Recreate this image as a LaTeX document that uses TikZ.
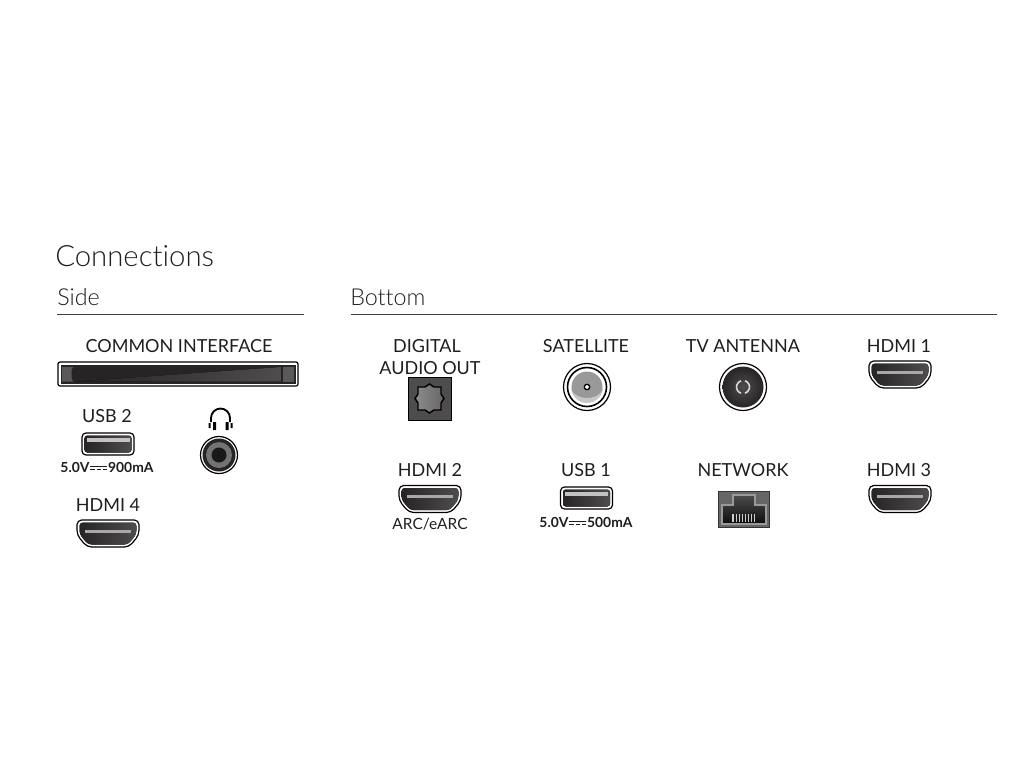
\documentclass[tikz,border=0pt]{standalone}
\usepackage{fontspec}
\setmainfont{Lato}
\newfontfamily\lightfont[Ligatures=NoCommon]{Lato Light}
\newcommand{\dcsym}{\hspace{0.5pt}\raisebox{3.9pt}{\rlap{\rule{13pt}{0.7pt}}}\raisebox{1.6pt}{\rule{3.4pt}{0.7pt}\hspace{1.4pt}\rule{3.4pt}{0.7pt}\hspace{1.4pt}\rule{3.4pt}{0.7pt}}\hspace{0.5pt}}
\definecolor{portdark}{HTML}{262424}
\definecolor{portmid}{HTML}{4E4C4C}
\definecolor{slotgrey}{HTML}{A8A8A8}
\definecolor{txt}{HTML}{1E1E1E}
\tikzset{
  label/.style={text=txt,font=\fontsize{13.5}{14}\selectfont,inner sep=0pt,anchor=center},
  small/.style={text=txt,font=\fontsize{10.4}{12}\selectfont\bfseries,inner sep=0pt,anchor=center},
  head/.style={text=txt,font=\lightfont\fontsize{17.5}{18}\selectfont,inner sep=0pt,anchor=base west},
  rulesty/.style={draw=black!75,line width=0.6pt},
  outer/.style={fill=white,draw=black,line width=0.9pt},
  pics/hdmi/.style={code={
    \draw[outer,rounded corners=3.5] (-31,-13.5) -- (31,-13.5) -- (31,1.5) -- (21,13.5) -- (-21,13.5) -- (-31,1.5) -- cycle;
    \fill[left color=portdark,right color=portmid,rounded corners=2.5] (-28.5,-11) -- (28.5,-11) -- (28.5,0.5) -- (20,11) -- (-20,11) -- (-28.5,0.5) -- cycle;
    \fill[slotgrey] (-23,-4) rectangle (23,-1);
  }},
  pics/usb/.style={code={
    \draw[outer,rounded corners=3] (-26,-11) rectangle (26,11);
    \fill[left color=portdark,right color=portmid,rounded corners=2] (-23.5,-8.5) rectangle (23.5,8.5);
    \fill[slotgrey!70!white] (-21.5,-6) rectangle (21.5,-2.5);
  }}
}
\begin{document}
\begin{tikzpicture}[x=0.75pt,y=-0.75pt]
\useasboundingbox (0,0) rectangle (1024,768);
\node[head,font=\lightfont\fontsize{22}{26}\selectfont] (title) at (55,266) {Connections};
\node[head] (side) at (57,305) {Side};
\node[head] (bottom) at (350,305) {Bottom};
\draw[rulesty] (57,314) -- (304,314);
\draw[rulesty] (351,314) -- (997,314);

% Common interface
\node[label] (ci) at (179,346) {COMMON INTERFACE};
\draw[outer,rounded corners=1.5] (58,362) rectangle (298,386);
\fill[portdark] (60.5,364.5) rectangle (295.5,383.5);
\fill[left color=portdark,right color=portmid] (76,381.5) -- (281,381.5) -- (281,367) -- cycle;
\fill[black!65] (62,367) -- (73,367) -- (71.5,370) -- (71.5,378) -- (73,381.5) -- (62,381.5) -- cycle;
\fill[black!65] (283,367) -- (294,367) -- (294,381.5) -- (283,381.5) -- cycle;

% USB 2, headphones, HDMI 4
\node[label] (usbtwo) at (107,416) {USB 2};
\pic at (108,444) {usb};
\node[small] (usbtwov) at (107,467.5) {5.0V\dcsym 900mA};
\node[label] (hdmifour) at (108,505) {HDMI 4};
\pic at (108,533.5) {hdmi};
\draw[black,line width=1.4pt] (211,422) -- (211,418) arc[start angle=180,end angle=360,radius=9.5] -- (230,422);
\fill[black] (208.5,423) rectangle (210.5,428) (213,422) rectangle (216,430) (225.5,422) rectangle (228.5,430) (230.5,423) rectangle (232.5,428);
\draw[outer] (219,455) circle[radius=18.5];
\fill[portdark] (219,455) circle[radius=16.5];
\fill[black!55] (219,455) circle[radius=13];
\fill[black!90] (219,455) circle[radius=7.5];

% Digital audio out
\node[label] (digital) at (427,346) {DIGITAL};
\node[label] (audio) at (430,368) {AUDIO OUT};
\fill[portmid] (408,377) rectangle (451,420);
\draw[black,line width=0.5pt] (408,377) rectangle (451,420);
\draw[black,line width=1.1pt,left color=black!45,right color=black!60]
  (418,387) -- (425,387) -- (429.5,384) -- (434,387) -- (441,387) -- (441,394) -- (444,398.5) -- (441,403) -- (441,410) -- (434,410) -- (429.5,413) -- (425,410) -- (418,410) -- (418,403) -- (415,398.5) -- (418,394) -- cycle;

% Satellite
\node[label] (sat) at (586,346) {SATELLITE};
\draw[outer] (587,387) circle[radius=23.5];
\draw[black,line width=1.2pt,fill=white] (587,387) circle[radius=19.5];
\fill[black!40] (587,387) circle[radius=15.5];
\fill[black!22] (603,387) arc[start angle=0,end angle=180,radius=16] arc[start angle=180,end angle=0,x radius=16,y radius=11] -- cycle;
\draw[black,line width=1pt,fill=white] (587,387) circle[radius=2.7];

% TV antenna
\node[label] (tv) at (743,346) {TV ANTENNA};
\draw[outer] (743,387) circle[radius=23.5];
\shade[inner color=portmid,outer color=portdark] (743,387) circle[radius=20.5];
\draw[black!15,line width=1.2pt] (743,387) ++(-72:6.5) arc[start angle=-72,end angle=72,radius=6.5];
\draw[black!15,line width=1.2pt] (743,387) ++(108:6.5) arc[start angle=108,end angle=252,radius=6.5];

% HDMI 1
\node[label] (hdmione) at (899,346) {HDMI 1};
\pic at (900,374.5) {hdmi};

% Second row
\node[label] (hdmitwo) at (430,470) {HDMI 2};
\pic at (430,499) {hdmi};
\node[label,font=\fontsize{11.6}{12}\selectfont] (arc) at (430,524) {ARC/eARC};
\node[label] (usbone) at (586,470) {USB 1};
\pic at (586.5,498) {usb};
\node[small] (usbonev) at (586,522) {5.0V\dcsym 500mA};
\node[label] (network) at (743,470) {NETWORK};
\fill[black!60] (718,491) rectangle (769,527);
\draw[black!80,line width=0.5pt] (718,491) rectangle (769,527);
\draw[black!40,line width=0.9pt,top color=black!70,bottom color=black!95] (722,524) -- (722,505) -- (733,505) -- (733,495) -- (755,495) -- (755,505) -- (766,505) -- (766,524) -- cycle;
\foreach \i in {0,...,7}{\draw[black!20,line width=0.8pt] ({733+\i*3.1},514) -- ({733+\i*3.1},522);}
\node[label] (hdmithree) at (899,470) {HDMI 3};
\pic at (900,499) {hdmi};
\end{tikzpicture}
\end{document}
